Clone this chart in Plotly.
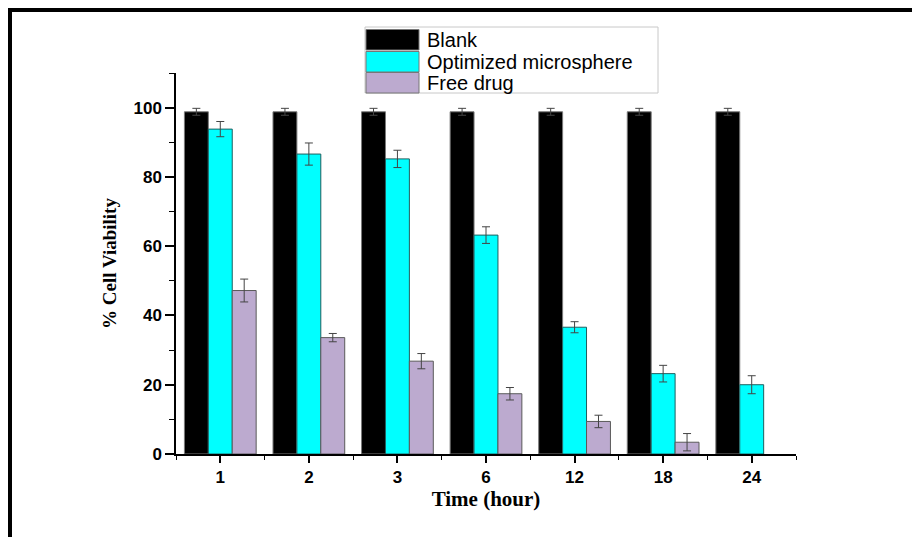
import plotly.graph_objects as go

# ---- data ----
time_labels = ["1", "2", "3", "6", "12", "18", "24"]
series_names = ["Blank", "Optimized microsphere", "Free drug"]
blank = [98.8, 98.8, 98.8, 98.8, 98.8, 98.8, 98.8]
blank_err = [1.0, 1.0, 1.0, 1.0, 1.0, 1.0, 1.0]
optimized = [93.8, 86.6, 85.2, 63.2, 36.6, 23.2, 20.0]
optimized_err = [2.2, 3.2, 2.5, 2.4, 1.6, 2.4, 2.6]
free_drug = [47.2, 33.6, 26.8, 17.4, 9.4, 3.4, None]
free_drug_err = [3.3, 1.2, 2.2, 1.8, 1.8, 2.5, None]

colors = ["#000000", "#00ffff", "#bcaacf"]
outlines = ["#7a7a7a", "#1f5f5f", "#5a5a5a"]

W, H = 912, 537
L, R, T, B = 176, 116, 73, 83
PW, PH = W - L - R, H - T - B

def px_x(p):
    return (p - L) / PW

def px_y(p):
    return (H - B - p) / PH

xpos = list(range(len(time_labels)))

fig = go.Figure()
for name, vals, errs, c, oc in zip(series_names, [blank, optimized, free_drug],
                                    [blank_err, optimized_err, free_drug_err], colors, outlines):
    fig.add_trace(go.Bar(
        x=xpos, y=vals, name=name, showlegend=False,
        marker=dict(color=c, line=dict(color=oc, width=1)),
        error_y=dict(type="data", array=errs, visible=True, color="#444444", thickness=1, width=4),
    ))

fig.update_layout(
    width=W, height=H,
    margin=dict(l=L, r=R, t=T, b=B),
    paper_bgcolor="white", plot_bgcolor="white",
    barmode="group", bargap=0.19, bargroupgap=0,
    font=dict(family="Liberation Sans, Arial, sans-serif", color="black"),
)

fig.update_xaxes(
    range=[-0.5, 6.5], tickvals=xpos, ticktext=time_labels,
    showline=True, linecolor="black", linewidth=1.5, showgrid=False, zeroline=False,
    ticks="outside", ticklen=7, tickwidth=1.5, tickcolor="black",
    tickfont=dict(family="Liberation Sans, Arial", size=17, color="black", weight="bold"),
    minor=dict(tickmode="linear", tick0=0.5, dtick=1, ticks="outside", ticklen=4, tickwidth=1.2, tickcolor="black"),
    title=dict(text="<b>Time (hour)</b>", font=dict(family="Liberation Serif, Times New Roman", size=21, color="black"), standoff=2),
)
fig.update_yaxes(
    range=[0, 110], tickmode="linear", tick0=0, dtick=20,
    showline=True, linecolor="black", linewidth=1.5, showgrid=False, zeroline=False,
    ticks="outside", ticklen=9, tickwidth=1.5, tickcolor="black",
    tickfont=dict(family="Liberation Sans, Arial", size=17, color="black", weight="bold"),
    minor=dict(tickmode="linear", tick0=0, dtick=10, ticks="outside", ticklen=5, tickwidth=1.2, tickcolor="black"),
    title=dict(text="<b>% Cell Viability</b>", font=dict(family="Liberation Serif, Times New Roman", size=19, color="black"), standoff=12),
)

shapes = []
# outer frame (top-left corner visible, extends beyond right/bottom edges)
shapes.append(dict(type="rect", xref="paper", yref="paper",
                   x0=px_x(10), x1=px_x(W + 20), y0=px_y(H + 20), y1=px_y(10),
                   line=dict(color="black", width=4), layer="above"))
# legend box
lx0, lx1, ly0, ly1 = 365, 658, 27, 93
shapes.append(dict(type="rect", xref="paper", yref="paper",
                   x0=px_x(lx0), x1=px_x(lx1), y0=px_y(ly1), y1=px_y(ly0),
                   line=dict(color="#c8c8c8", width=1), fillcolor="white", layer="above"))
annotations = []
row_tops = [29.5, 51.5, 72.5]
for i, (name, c) in enumerate(zip(series_names, colors)):
    top = row_tops[i]
    shapes.append(dict(type="rect", xref="paper", yref="paper",
                       x0=px_x(366), x1=px_x(419), y0=px_y(top + 20.5), y1=px_y(top),
                       line=dict(color="#777777", width=1), fillcolor=c, layer="above"))
    annotations.append(dict(xref="paper", yref="paper", x=px_x(425), y=px_y(top + 10.5),
                            xanchor="left", yanchor="middle", showarrow=False, text=name,
                            font=dict(family="Liberation Sans, Arial", size=20, color="black")))

fig.update_layout(shapes=shapes, annotations=annotations)
fig.write_html("out.html")
